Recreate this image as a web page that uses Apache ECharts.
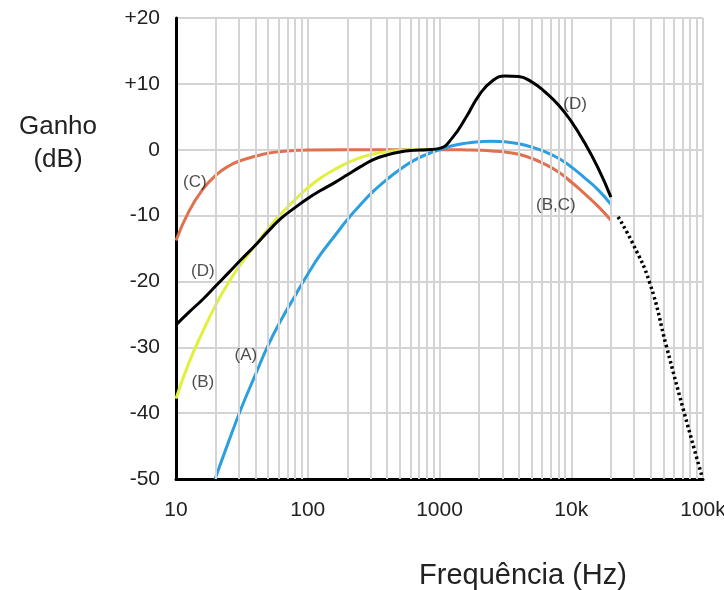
<!DOCTYPE html>
<html><head><meta charset="utf-8">
<script src="https://cdn.jsdelivr.net/npm/echarts@6/dist/echarts.min.js"></script>
<style>html,body{margin:0;padding:0;background:#fff}#c{width:724px;height:590px}</style>
</head><body><div id="c"></div>
<script>
// Axis ticks
const xTicks = [10, 100, 1000, 10000, 100000];
const xTickLabels = ['10', '100', '1000', '10k', '100k'];
const minorFreqs = [20,30,40,50,60,70,80,90,200,300,400,500,600,700,800,900,
  2000,3000,4000,5000,6000,7000,8000,9000,20000,30000,40000,50000,60000,70000,80000,90000];

// Curve C (orange)
const freqC = [10, 12.5, 16, 20, 25, 31.5, 40, 50, 63, 80, 100, 200, 500, 1000, 1250, 1600, 2000, 2500, 3150, 4000, 5000, 6300, 8000, 10000, 12500, 16000, 20000];
const gainC = [-13.8, -9.4, -6.0, -3.9, -2.5, -1.6, -1.0, -0.55, -0.28, -0.12, -0.04, 0, 0, 0, 0, -0.03, -0.08, -0.18, -0.35, -0.7, -1.3, -2.2, -3.4, -4.9, -6.6, -8.6, -10.7];
// Curve B (yellow)
const freqB = [10, 12.5, 16, 20, 25, 31.5, 40, 50, 63, 80, 100, 125, 160, 200, 250, 315, 400, 500, 630, 800, 1000];
const gainB = [-37.8, -32.4, -27.6, -23.6, -20.2, -17.2, -14.5, -12.0, -9.7, -7.6, -5.8, -4.3, -3.0, -2.0, -1.2, -0.65, -0.3, -0.1, 0, 0, 0];
// Curve A (blue)
const freqA = [19.8, 25, 31.5, 40, 50, 63, 80, 100, 125, 160, 200, 250, 315, 400, 500, 630, 800, 1000, 1250, 1600, 2000, 2500, 3150, 4000, 5000, 6300, 8000, 10000, 12500, 16000, 20000];
const gainA = [-50, -44.4, -39.1, -34.2, -29.7, -25.8, -22.2, -18.9, -15.9, -13.1, -10.6, -8.4, -6.3, -4.5, -3.0, -1.7, -0.7, 0, 0.6, 1.0, 1.2, 1.3, 1.2, 0.9, 0.4, -0.3, -1.3, -2.6, -4.2, -6.1, -8.3];
// Curve D (black)
const freqD = [10, 12.5, 16, 20, 25, 31.5, 40, 50, 63, 80, 100, 125, 160, 200, 250, 315, 400, 500, 630, 800, 1000, 1250, 1600, 2000, 2500, 3150, 4000, 5000, 6300, 8000, 10000, 12500, 16000, 20000];
const gainD = [-26.6, -24.7, -22.7, -20.7, -18.7, -16.6, -14.5, -12.4, -10.4, -8.8, -7.4, -6.2, -5.0, -3.8, -2.6, -1.5, -0.8, -0.35, -0.1, 0, 0.2, 1.8, 5.0, 8.3, 10.4, 11.2, 11.1, 10.3, 8.8, 6.8, 4.3, 1.2, -2.8, -7.2];
// Dotted extension
const freqX = [22700, 29400, 39400, 53000, 71000, 98500];
const gainX = [-10.2, -14.3, -20.2, -30, -39.5, -49.7];

// Curve labels
const labelText = ['(C)', '(D)', '(B)', '(A)', '(D)', '(B,C)'];
const labelFreq = [13.9, 16.0, 16.0, 33.9, 10700, 7650];
const labelGain = [-5.0, -18.4, -35.3, -31.2, 6.9, -8.4];

const zip = (f, g) => f.map((v, i) => [v, g[i]]);
const FONT = '"Liberation Sans", Arial, sans-serif';
const GRID = '#d4d4d4';

const chart = echarts.init(document.getElementById('c'));
const lineBase = { type: 'line', showSymbol: false, symbol: 'none', smooth: 0.5, animation: false, silent: true };

chart.setOption({
  animation: false,
  grid: { left: 176, top: 18, right: 21, bottom: 111, containLabel: false, outerBoundsMode: 'none' },
  xAxis: {
    type: 'log', logBase: 10, min: 10, max: 100000,
    axisLine: { show: true, onZero: false, lineStyle: { color: '#000', width: 3 } },
    axisTick: { show: false },
    axisLabel: { color: '#222', fontSize: 21, fontFamily: FONT, margin: 21,
      formatter: v => { const i = xTicks.findIndex(t => Math.abs(t - v) / t < 1e-6); return i >= 0 ? xTickLabels[i] : ''; } },
    splitLine: { show: true, lineStyle: { color: GRID, width: 2 } }
  },
  yAxis: {
    type: 'value', min: -50, max: 20, interval: 10,
    axisLine: { show: true, onZero: false, lineStyle: { color: '#000', width: 3 } },
    axisTick: { show: false },
    axisLabel: { color: '#222', fontSize: 21, fontFamily: FONT, margin: 16,
      formatter: v => v > 0 ? '+' + v : String(v) },
    splitLine: { show: true, lineStyle: { color: GRID, width: 2 } }
  },
  graphic: [
    { type: 'text', x: 58, y: 127, style: { text: 'Ganho', font: '26px ' + FONT, fill: '#222', textAlign: 'center', textVerticalAlign: 'middle' } },
    { type: 'text', x: 58, y: 160, style: { text: '(dB)', font: '26px ' + FONT, fill: '#222', textAlign: 'center', textVerticalAlign: 'middle' } },
    { type: 'text', x: 523, y: 576, style: { text: 'Frequência (Hz)', font: '29px ' + FONT, fill: '#222', textAlign: 'center', textVerticalAlign: 'middle' } }
  ],
  series: [
    { type: 'line', data: [], z: 1, silent: true, animation: false,
      markLine: { silent: true, symbol: ['none', 'none'], label: { show: false }, animation: false,
        lineStyle: { color: GRID, width: 2, type: 'solid' },
        data: minorFreqs.map(f => ({ xAxis: f })) } },
    Object.assign({}, lineBase, { name: 'C', data: zip(freqC, gainC), z: 3, lineStyle: { color: '#e0714f', width: 3 } }),
    Object.assign({}, lineBase, { name: 'B', data: zip(freqB, gainB), z: 3, lineStyle: { color: '#e2ef3c', width: 3 } }),
    Object.assign({}, lineBase, { name: 'A', data: zip(freqA, gainA), z: 4, lineStyle: { color: '#2c9fe0', width: 3 } }),
    Object.assign({}, lineBase, { name: 'D', data: zip(freqD, gainD), z: 5, lineStyle: { color: '#000', width: 3 } }),
    Object.assign({}, lineBase, { name: 'ext', data: zip(freqX, gainX), z: 5, lineStyle: { color: '#000', width: 3.5, type: [2.5, 3] } }),
    { type: 'scatter', z: 6, silent: true, symbolSize: 0, animation: false,
      data: labelText.map((t, i) => ({ value: [labelFreq[i], labelGain[i]], name: t })),
      label: { show: true, position: 'inside', formatter: p => p.name, color: '#222', fontSize: 17, fontFamily: FONT } }
  ]
});
</script></body></html>
